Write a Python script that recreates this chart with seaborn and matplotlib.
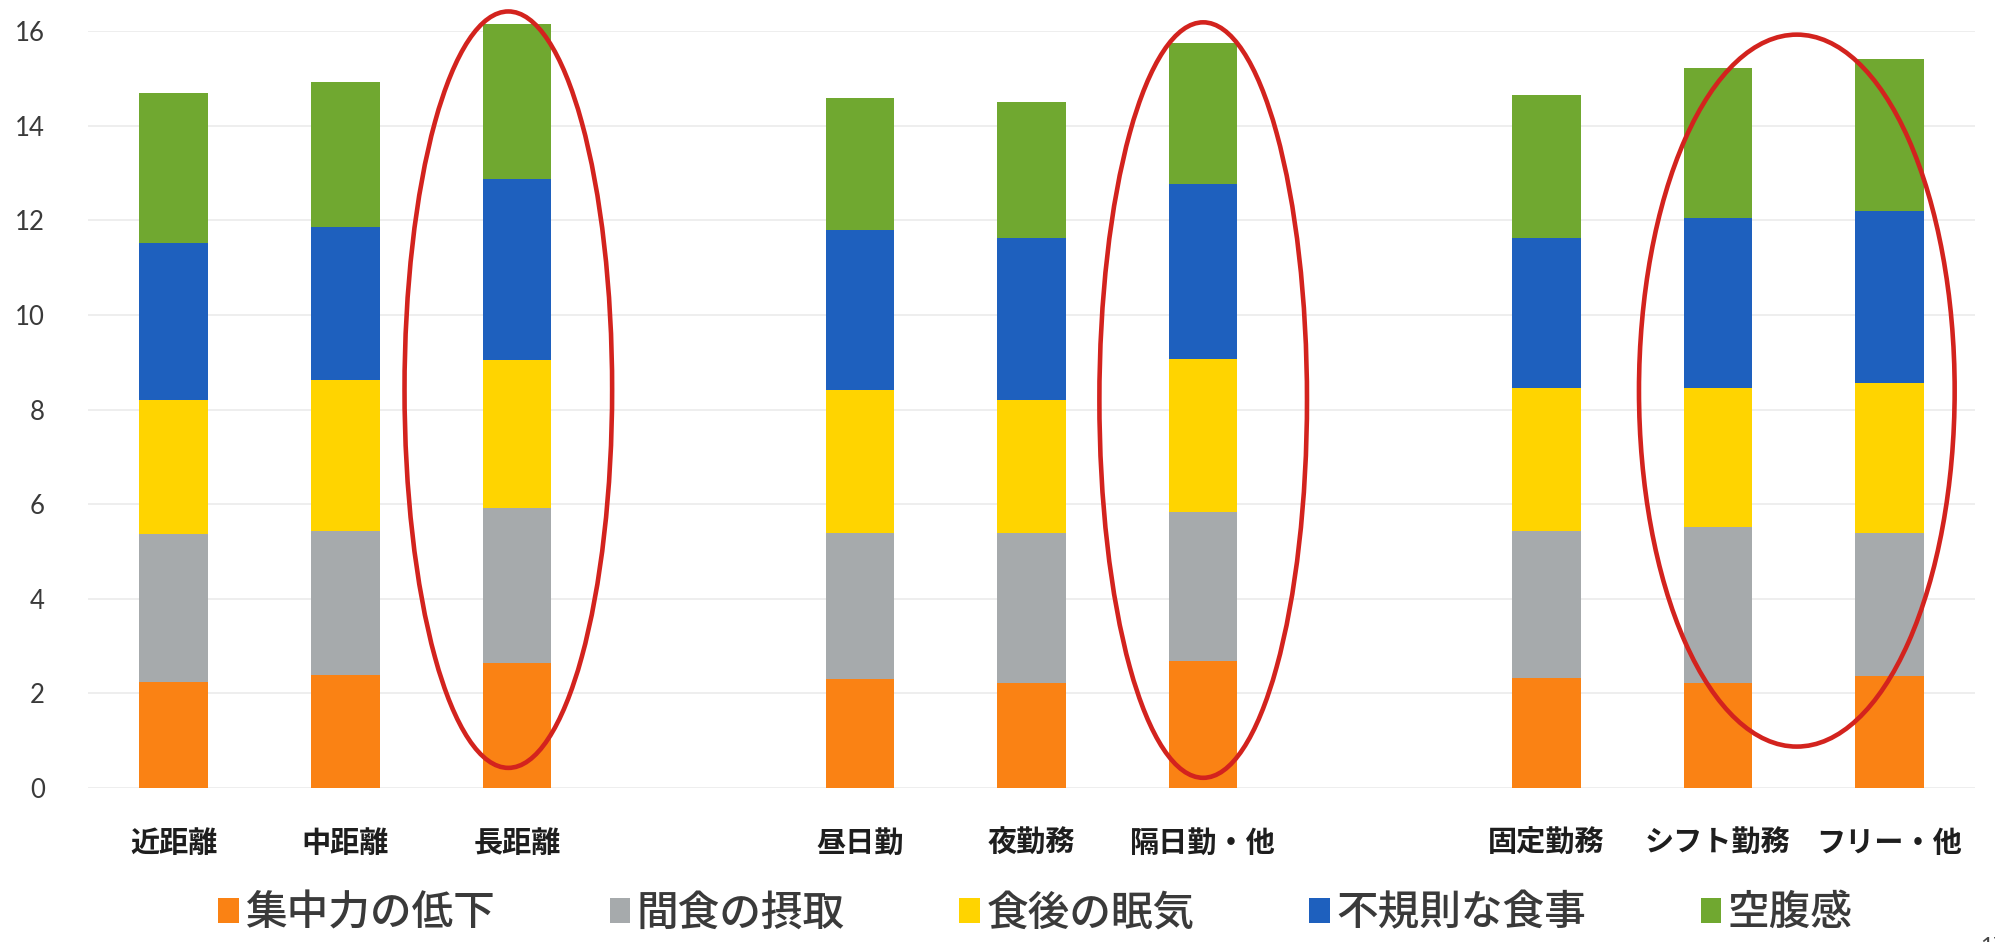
import matplotlib
matplotlib.use("Agg")
import matplotlib.pyplot as plt
from matplotlib.patches import Ellipse, Patch
import pandas as pd
import seaborn as sns

# ---- data -------------------------------------------------------------
categories = ["近距離", "中距離", "長距離",
              "昼日勤", "夜勤務", "隔日勤・他",
              "固定勤務", "シフト勤務", "フリー・他"]
series = ["集中力の低下", "間食の摂取", "食後の眠気", "不規則な食事", "空腹感"]

concentration   = [2.25, 2.39, 2.64, 2.30, 2.21, 2.69, 2.32, 2.21, 2.37]
snacking        = [3.11, 3.04, 3.27, 3.10, 3.17, 3.15, 3.12, 3.30, 3.01]
drowsiness      = [2.84, 3.20, 3.14, 3.01, 2.82, 3.22, 3.01, 2.94, 3.19]
irregular_meals = [3.33, 3.22, 3.83, 3.39, 3.42, 3.70, 3.18, 3.59, 3.63]
hunger          = [3.16, 3.08, 3.27, 2.78, 2.89, 2.98, 3.01, 3.19, 3.20]

y_ticks = [0, 2, 4, 6, 8, 10, 12, 14, 16]
highlighted = [("長距離",), ("隔日勤・他",), ("シフト勤務", "フリー・他")]

colors = ["#FA8214", "#A6AAAC", "#FFD400", "#1E60BE", "#70A830"]

# ---- layout: three groups of bars separated by an empty slot ----------
gap_slots = ["_gap1", "_gap2"]
order = categories[:3] + [gap_slots[0]] + categories[3:6] + [gap_slots[1]] + categories[6:]
pos = {c: i for i, c in enumerate(order)}

values = [concentration, snacking, drowsiness, irregular_meals, hunger]
df = pd.DataFrame({"category": categories})
running = [0.0] * len(categories)
cum_cols = []
for name, vals in zip(series, values):
    running = [r + v for r, v in zip(running, vals)]
    df[name] = running
    cum_cols.append(name)

sns.set_theme(style="white")
jp = ["Noto Sans CJK JP", "DejaVu Sans"]
plt.rcParams["font.family"] = jp

fig = plt.figure(figsize=(19.95, 9.42), dpi=100)
ax = fig.add_axes([0.0441, 0.1635, 0.946, 0.8035])

# stacked bars: draw cumulative totals from the top layer downwards
for name, col in zip(reversed(cum_cols), reversed(colors)):
    sns.barplot(data=df, x="category", y=name, order=order, color=col,
                saturation=1, width=0.4, errorbar=None, linewidth=0,
                clip_on=False, ax=ax)

ax.set_xlim(-0.5, len(order) - 0.5)
ax.set_ylim(0, 16)
ax.set_yticks(y_ticks)
ax.set_yticklabels([str(t) for t in y_ticks], family="Lato", fontsize=18.5,
                   color="#3A3A3A")
ax.set_xticks(range(len(order)))
ax.set_xticklabels(["" if c in gap_slots else c for c in order],
                   fontsize=21, fontweight="bold", color="#1E1E1E")
ax.tick_params(axis="y", length=0, pad=31)
ax.tick_params(axis="x", length=0, pad=29)
ax.set_xlabel("")
ax.set_ylabel("")
for s in ax.spines.values():
    s.set_visible(False)
ax.set_axisbelow(True)
ax.yaxis.grid(True, color="#EDEDED", linewidth=1.3)
ax.xaxis.grid(False)

# red ellipses around the highlighted bars: (x offset, width, y centre, height)
ellipse_shapes = [(-0.05, 1.21, 8.42, 15.99),
                  (0.0, 1.21, 8.2, 15.97),
                  (-0.04, 1.84, 8.4, 15.05)]
for items, (dx, w, cy, h) in zip(highlighted, ellipse_shapes):
    xs = [pos[c] for c in items]
    cx = sum(xs) / len(xs) + dx
    ax.add_patch(Ellipse((cx, cy), w, h, fill=False, edgecolor="#D3231E",
                         linewidth=3.3, clip_on=False, zorder=10))

# legend
handles = [Patch(facecolor=c, edgecolor="none") for c in colors]
leg = fig.legend(handles, series, loc="center", bbox_to_anchor=(0.519, 0.031),
                 ncol=5, frameon=False,
                 prop={"family": jp, "size": 30, "weight": "medium"},
                 handlelength=0.5, handleheight=0.55, handletextpad=0.15,
                 columnspacing=2.75, borderaxespad=0)
for t in leg.get_texts():
    t.set_color("#3A3A3A")

fig.text(0.9925, -0.011, "17", fontsize=16, color="#444444", family="Lato",
         ha="left", va="baseline")

fig.savefig("out.png", dpi=100, facecolor="white")
